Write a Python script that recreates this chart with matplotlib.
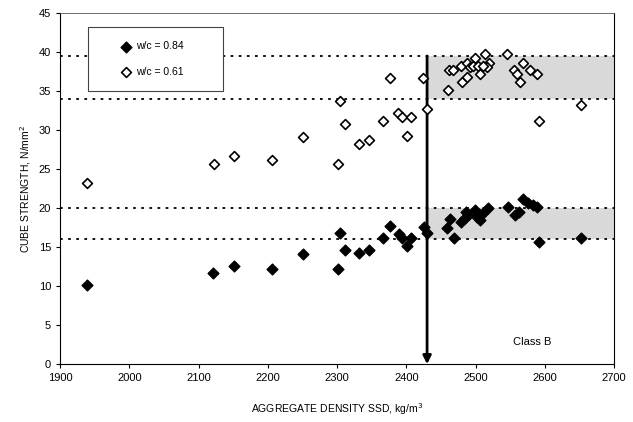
import numpy as np
import matplotlib.pyplot as plt
from matplotlib.patches import Rectangle

plt.rcParams['font.family'] = ['Liberation Sans', 'DejaVu Sans']

# w/c = 0.84 (filled diamonds)
dens_84 = [1939, 2121, 2151, 2206, 2251, 2301, 2304, 2312, 2332, 2346, 2366, 2377,
           2390, 2394, 2407, 2401, 2425, 2430, 2459, 2463, 2469, 2479, 2486, 2485,
           2489, 2499, 2502, 2507, 2511, 2518, 2547, 2557, 2563, 2569, 2576, 2583,
           2589, 2592, 2652]
str_84 = [10.1, 11.7, 12.6, 12.2, 14.1, 12.2, 16.8, 14.6, 14.2, 14.6, 16.2, 17.7,
          16.7, 16.2, 16.2, 15.1, 17.6, 16.8, 17.5, 18.6, 16.2, 18.2, 19.5, 18.7,
          19.1, 19.7, 18.9, 18.5, 19.4, 20.0, 20.1, 19.1, 19.5, 21.2, 20.6, 20.4,
          20.1, 15.6, 16.2]

# w/c = 0.61 (open diamonds)
dens_61 = [1939, 2122, 2151, 2206, 2251, 2301, 2304, 2312, 2332, 2346, 2366, 2377,
           2388, 2394, 2407, 2401, 2424, 2430, 2460, 2462, 2468, 2480, 2479, 2487,
           2487, 2492, 2499, 2497, 2504, 2507, 2514, 2519, 2517, 2511, 2546, 2556,
           2560, 2564, 2568, 2579, 2589, 2592, 2652]
str_61 = [23.2, 25.6, 26.7, 26.2, 29.1, 25.6, 33.7, 30.8, 28.2, 28.7, 31.2, 36.7,
          32.2, 31.7, 31.7, 29.2, 36.7, 32.7, 35.1, 37.7, 37.7, 36.2, 38.2, 36.8,
          38.6, 38.1, 39.2, 38.2, 38.2, 37.2, 39.7, 38.6, 38.1, 38.2, 39.7, 37.7,
          37.2, 36.2, 38.6, 37.7, 37.2, 31.2, 33.2]

limits = [16, 20, 34, 39.5]
cutoff = 2430

fig = plt.figure(figsize=(6.33, 4.22), dpi=100)
ax = fig.add_axes([0.095, 0.137, 0.875, 0.832])

# class B shaded bands
ax.fill_between([cutoff, 2700], 34, 39.5, color='#d9d9d9', lw=0, zorder=0)
ax.fill_between([cutoff, 2700], 16, 20, color='#d9d9d9', lw=0, zorder=0)

for v in limits:
    ax.axhline(v, color='black', ls=(0, (1.5, 3)), lw=1.3, zorder=1)

ax.annotate('', xy=(cutoff, 0), xytext=(cutoff, 39.5),
            arrowprops=dict(arrowstyle='-|>', color='black', lw=2, mutation_scale=12,
                            shrinkA=0, shrinkB=0), zorder=2)

ax.scatter(dens_84, str_84, marker='D', s=30, color='black', zorder=3, label='w/c = 0.84')
ax.scatter(dens_61, str_61, marker='D', s=25, facecolor='white', edgecolor='black',
           linewidths=1.2, zorder=3, label='w/c = 0.61')

ax.text(2582, 2.9, 'Class B', fontsize=8, ha='center', va='center')

ax.set_xlim(1900, 2700)
ax.set_ylim(0, 45)
ax.set_xticks(np.arange(1900, 2701, 100))
ax.set_yticks(np.arange(0, 46, 5))
ax.tick_params(labelsize=8, length=3, width=0.8)
ax.set_xlabel('AGGREGATE DENSITY SSD, kg/m$^3$', fontsize=7.5, labelpad=13)
ax.set_ylabel('CUBE STRENGTH, N/mm$^2$', fontsize=7.5)
ax.spines['top'].set_linewidth(0.6)
ax.spines['top'].set_color('#555555')

# legend box
ax.add_patch(Rectangle((0.0505, 0.778), 0.244, 0.182, transform=ax.transAxes,
                       facecolor='white', edgecolor='#444444', lw=0.8, zorder=4))
leg = ax.legend(loc='center', bbox_to_anchor=(0.166, 0.869), fontsize=7.5,
                frameon=False, labelspacing=1.5, handletextpad=0.4,
                borderaxespad=0, handlelength=1.0)
leg.set_zorder(5)

fig.savefig('out.png', dpi=100)
